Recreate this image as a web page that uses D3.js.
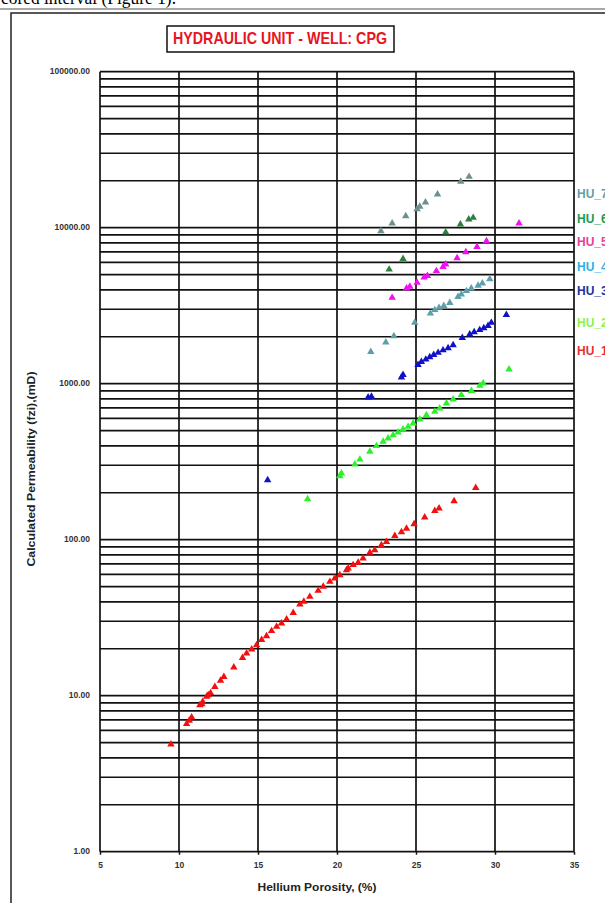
<!DOCTYPE html>
<html>
<head>
<meta charset="utf-8">
<script src="https://cdn.jsdelivr.net/npm/d3@7"></script>
<style>
  html, body { margin: 0; padding: 0; background: #fff; overflow: hidden; }
</style>
</head>
<body>
<div id="chart"></div>
<script>
// hydraulic units, [porosity %, permeability mD]
const units = ["HU_7", "HU_6", "HU_5", "HU_4", "HU_3", "HU_2", "HU_1"];

const hu1 = [[9.49,4.88],[10.48,6.59],[10.65,6.92],[10.8,7.26],[11.32,8.7],[11.45,8.85],[11.5,9.15],
  [11.75,9.86],[11.85,10.1],[12.0,10.4],[12.27,11.4],[12.63,12.5],[12.84,13.2],[13.47,15.2],[14.02,17.5],
  [14.28,18.7],[14.6,19.8],[14.91,21.1],[15.23,22.8],[15.54,24.1],[15.86,26],[16.18,27.7],[16.49,29.1],
  [16.81,30.9],[17.23,34],[17.65,38.5],[17.9,40.1],[18.28,43.1],[18.81,47.1],[19.13,50],[19.55,53.8],
  [19.86,56.6],[20.18,59.4],[20.6,63.9],[20.71,65.6],[21.02,68.9],[21.34,71.3],[21.65,76],[22.08,82.6],
  [22.39,85.9],[22.81,92.5],[23.13,97],[23.66,106],[24.08,112],[24.4,118],[24.88,126],[25.55,139],
  [26.19,153],[26.46,159],[27.41,177],[28.78,215]];
const hu2 = [[18.14,182],[20.18,256],[20.28,266],[21.13,304],[21.45,327],[22.08,367],[22.5,399],[22.92,425],
  [23.23,447],[23.55,469],[23.87,488],[24.18,510],[24.5,530],[24.82,557],[25.24,591],[25.66,630],[26.19,662],
  [26.5,695],[26.93,749],[27.35,794],[27.87,847],[28.51,901],[29.04,971],[29.25,1006],[30.89,1237]];
const hu3 = [[15.61,241],[21.97,818],[22.18,826],[24.08,1100],[24.18,1140],[25.13,1320],[25.34,1380],
  [25.62,1430],[25.87,1480],[26.12,1530],[26.4,1580],[26.71,1640],[27.03,1690],[27.35,1770],[27.93,1970],
  [28.4,2070],[28.68,2140],[29.03,2210],[29.29,2270],[29.56,2350],[29.77,2460],[30.72,2760]];
const hu4 = [[22.14,1600],[23.09,1840],[23.6,2020],[24.92,2460],[25.91,2820],[26.19,2970],[26.46,3070],
  [26.76,3160],[27.14,3300],[27.66,3610],[27.87,3740],[28.19,3930],[28.5,4090],[28.93,4250],[29.2,4400],[29.67,4690]];
const hu5 = [[23.49,3560],[24.4,4090],[24.61,4190],[25.07,4440],[25.51,4800],[25.72,4920],[26.29,5280],
  [26.71,5620],[26.88,5820],[27.6,6390],[28.15,6980],[28.86,7550],[29.46,8220],[31.52,10670]];
const hu6 = [[23.3,5400],[24.18,6320],[26.88,9350],[27.81,10520],[28.34,11320],[28.62,11590]];
const hu7 = [[22.78,9520],[23.49,10670],[24.35,11880],[25.07,13180],[25.24,13640],[25.6,14550],
  [26.36,16370],[27.83,19730],[28.36,21230]];

const xTicks = [5, 10, 15, 20, 25, 30, 35];
const yTicks = [1, 10, 100, 1000, 10000, 100000];

const markColor = {HU_1: "#f01010", HU_2: "#2cf02c", HU_3: "#1010c8", HU_4: "#5f9fac",
  HU_5: "#f010f0", HU_6: "#2f8040", HU_7: "#6f8f8f"};
const labelColor = {HU_1: "#e83030", HU_2: "#8cf050", HU_3: "#2030a0", HU_4: "#30b0e0",
  HU_5: "#e8409a", HU_6: "#1a9a50", HU_7: "#5fa0a8"};
const seriesData = {HU_1: hu1, HU_2: hu2, HU_3: hu3, HU_4: hu4, HU_5: hu5, HU_6: hu6, HU_7: hu7};

const W = 605, H = 903;
const plot = {left: 100, right: 574, top: 71.7, bottom: 851.7};

const svg = d3.select('#chart').append('svg').attr('width', W).attr('height', H);

// page header cut off at the top
svg.append('text')
    .attr('x', 1).attr('y', 4)
    .attr('font-family', 'Liberation Serif, Times New Roman, serif')
    .attr('font-size', 18)
    .attr('textLength', 175).attr('lengthAdjust', 'spacingAndGlyphs')
    .text('cored interval (Figure 1).');
svg.append('line').attr('x1', 0).attr('x2', W).attr('y1', 9).attr('y2', 9)
    .attr('stroke', '#a8a8a8').attr('stroke-width', 2);

// outer frame
svg.append('rect').attr('x', 11).attr('y', 13).attr('width', 700).attr('height', 1000)
    .attr('fill', 'none').attr('stroke', '#222').attr('stroke-width', 1.5);

// title box
svg.append('rect').attr('x', 167).attr('y', 26).attr('width', 227).attr('height', 26)
    .attr('fill', '#fff').attr('stroke', '#111').attr('stroke-width', 1.5);
svg.append('text')
    .attr('x', 173).attr('y', 44)
    .attr('font-family', 'Liberation Sans Narrow, Liberation Sans, Arial, sans-serif')
    .attr('font-weight', 'bold').attr('font-size', 17)
    .attr('fill', '#e8141e')
    .attr('textLength', 214).attr('lengthAdjust', 'spacingAndGlyphs')
    .text('HYDRAULIC UNIT - WELL: CPG');

const x = d3.scaleLinear().domain([5, 35]).range([plot.left, plot.right]);
const y = d3.scaleLog().domain([1, 100000]).range([plot.bottom, plot.top]);

// horizontal grid: 1..9 in every decade
const yGrid = [];
for (let e = 0; e < 5; e++) for (let k = 1; k <= 9; k++) yGrid.push(k * Math.pow(10, e));
yGrid.push(100000);

const grid = svg.append('g').attr('stroke', '#111').attr('stroke-width', 1.7);
grid.selectAll('.hline').data(yGrid).enter().append('line')
    .attr('x1', plot.left).attr('x2', plot.right)
    .attr('y1', d => y(d)).attr('y2', d => y(d));
grid.selectAll('.vline').data(xTicks).enter().append('line')
    .attr('x1', d => x(d)).attr('x2', d => x(d))
    .attr('y1', plot.top).attr('y2', plot.bottom);

// axes (labels only, the grid carries the lines)
const yAxis = svg.append('g').attr('transform', `translate(${plot.left - 1},0)`)
    .call(d3.axisLeft(y).tickValues(yTicks).tickFormat(d3.format('.2f')).tickSize(0).tickPadding(9));
const xAxis = svg.append('g').attr('transform', `translate(0,${plot.bottom})`)
    .call(d3.axisBottom(x).tickValues(xTicks).tickFormat(d3.format('d')).tickSize(3).tickPadding(7));
[yAxis, xAxis].forEach(a => {
    a.select('.domain').remove();
    a.selectAll('text')
        .attr('font-family', 'Liberation Sans Narrow, Liberation Sans, Arial, sans-serif')
        .attr('font-weight', 'bold').attr('font-size', 8.5).attr('fill', '#333');
    a.selectAll('line').attr('stroke', '#111').attr('stroke-width', 1.5);
});
yAxis.selectAll('text').attr('dy', '0.25em');

svg.append('text')
    .attr('x', 317).attr('y', 891).attr('text-anchor', 'middle')
    .attr('font-family', 'Liberation Sans, Arial, sans-serif')
    .attr('font-weight', 'bold').attr('font-size', 10.5).attr('fill', '#222')
    .attr('textLength', 119).attr('lengthAdjust', 'spacingAndGlyphs')
    .text('Hellium Porosity, (%)');

svg.append('text')
    .attr('transform', 'translate(35,469) rotate(-90)')
    .attr('text-anchor', 'middle')
    .attr('font-family', 'Liberation Sans, Arial, sans-serif')
    .attr('font-weight', 'bold').attr('font-size', 10).attr('fill', '#222')
    .attr('textLength', 195).attr('lengthAdjust', 'spacingAndGlyphs')
    .text('Calculated Permeability (fzi),(mD)');

// points
const tri = d3.symbol().type(d3.symbolTriangle).size(24);
units.slice().reverse().forEach(u => {
    svg.append('g').selectAll('path')
        .data(seriesData[u])
        .enter()
        .append('path')
        .attr('d', tri)
        .attr('transform', d => `translate(${x(d[0])},${y(d[1])})`)
        .attr('fill', markColor[u]);
});

// legend, clipped by the page edge
const legendY = [193, 218, 241, 266, 290, 322, 350];
svg.append('g').selectAll('text')
    .data(units)
    .enter()
    .append('text')
    .attr('x', 577)
    .attr('y', (d, i) => legendY[i] + 4.5)
    .attr('font-family', 'Liberation Sans, Arial, sans-serif')
    .attr('font-weight', 'bold')
    .attr('font-size', 12)
    .attr('fill', d => labelColor[d])
    .text(d => d);
</script>
</body>
</html>
